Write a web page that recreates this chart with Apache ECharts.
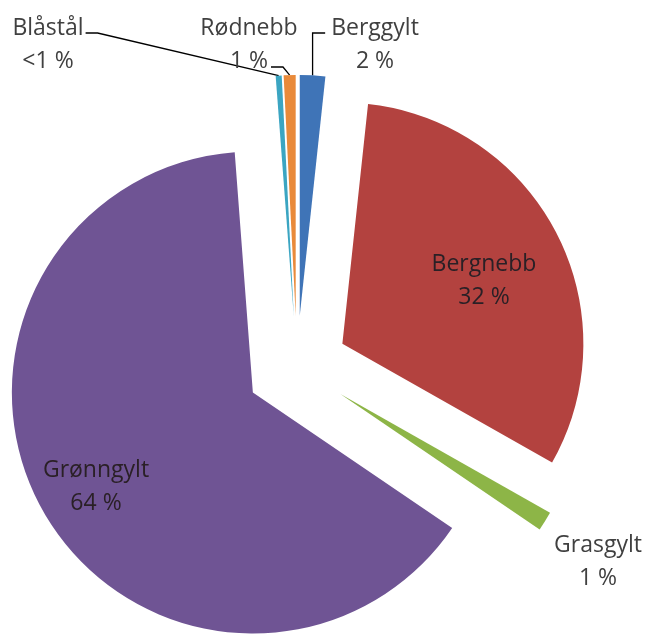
<!DOCTYPE html>
<html><head><meta charset="utf-8">
<script src="https://cdn.jsdelivr.net/npm/echarts@6/dist/echarts.min.js"></script>
<style>html,body{margin:0;padding:0;background:#fff}#c{width:650px;height:634px}</style>
</head><body><div id="c"></div>
<script>
// ---- data ----
const categories = ['Berggylt', 'Bergnebb', 'Grasgylt', 'Grønngylt', 'Blåstål', 'Rødnebb'];
const values = [1.7, 31.5, 1.3, 64.3, 0.4, 0.8];
// ---- styles / layout ----
const colors = ['#3F74B7', '#B3423F', '#8DB547', '#6F5494', '#3BA5C2', '#E98A3A'];
const insideNames = ['Bergnebb', 'Grønngylt'];
const labelCenters = {
  'Berggylt': [375, 45], 'Bergnebb': [484, 281], 'Grasgylt': [598, 562],
  'Grønngylt': [96, 487], 'Blåstål': [48, 45], 'Rødnebb': [249, 45]
};
const CX = 297, CY = 367, R = 241, OFFSET = 51;

const chart = echarts.init(document.getElementById('c'), null, {renderer: 'canvas'});

function pctText(p) {
  if (p < 0.5) return '<1 %';
  return Math.round(p) + ' %';
}

// exploded slices (no labels)
const sliceData = categories.map((name, i) => ({
  name: name, value: values[i], selected: true,
  itemStyle: {color: colors[i]}
}));

// label carrier (same pie, invisible sectors, not exploded)
const labelData = categories.map((name, i) => ({
  name: name, value: values[i],
  label: {color: insideNames.includes(name) ? '#2a2026' : '#404040'},
  labelLine: {show: !insideNames.includes(name) && name !== 'Grasgylt'}
}));

const common = {
  type: 'pie', center: [CX, CY], radius: R, startAngle: 90, clockwise: true,
  avoidLabelOverlap: false, emphasis: {disabled: true}, itemStyle: {borderWidth: 0}
};

chart.setOption({
  animation: false,
  series: [
    Object.assign({}, common, {
      selectedMode: 'multiple', selectedOffset: OFFSET,
      select: {itemStyle: {borderWidth: 0}},
      label: {show: false}, labelLine: {show: false},
      data: sliceData
    }),
    Object.assign({}, common, {
      silent: true,
      itemStyle: {color: 'rgba(0,0,0,0)', borderWidth: 0},
      label: {
        show: true, position: 'outside',
        fontFamily: 'Open Sans', fontSize: 23, lineHeight: 33, align: 'center',
        formatter: p => p.name + '\n' + pctText(p.percent)
      },
      labelLine: {show: true, length: 10, length2: 10, lineStyle: {color: '#000', width: 1.3}},
      labelLayout: function (params) {
        const name = categories[params.dataIndex];
        const c = labelCenters[name];
        const w = params.labelRect.width, h = params.labelRect.height;
        const res = {x: c[0], y: c[1], align: 'center', verticalAlign: 'middle'};
        const lp = params.labelLinePoints;
        if (lp && lp.length) {
          // move the anchor out with the exploded slice
          const ux = lp[0][0] - CX, uy = lp[0][1] - CY;
          const len = Math.sqrt(ux * ux + uy * uy) || 1;
          const p0 = [lp[0][0] + OFFSET * ux / len, lp[0][1] + OFFSET * uy / len];
          const top = c[1] - h / 2, left = c[0] - w / 2, right = c[0] + w / 2;
          if (name === 'Blåstål') {
            res.labelLinePoints = [p0, [right + 14, top + 21], [right + 2, top + 21]];
          } else if (name === 'Rødnebb') {
            res.labelLinePoints = [p0, [c[0] + 34, top + 55], [c[0] + 22, top + 55]];
          } else if (name === 'Berggylt') {
            res.labelLinePoints = [p0, [p0[0], top + 21], [left - 6, top + 21]];
          }
        }
        return res;
      },
      data: labelData
    })
  ]
});
</script>
</body></html>
